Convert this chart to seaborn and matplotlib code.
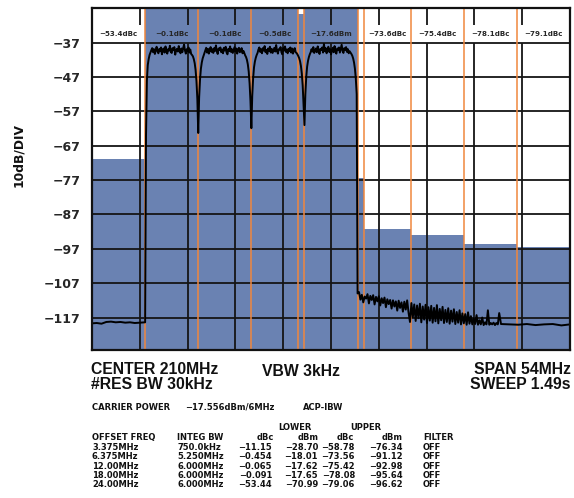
import numpy as np
import matplotlib
matplotlib.use('Agg')
import matplotlib.pyplot as plt
import seaborn as sns

# ACP channel bands (MHz) and integrated power (dBm)
band_edges = [183, 189, 195, 201, 206.25, 207, 213, 213.75, 219, 225, 231, 237]
band_dbm = [-70.99, -17.65, -17.62, -18.01, -28.70, -17.556,
            -76.34, -91.12, -92.98, -95.64, -96.62]
marker_mhz = [189, 195, 201, 206.25, 207, 213, 213.75, 219, 225, 231]

# labels shown in the header row of the plot
hdr_mhz = [186, 192, 198, 203.625, 210, 216.375, 222, 228, 234]
hdr_txt = ['\u221253.4dBc', '\u22120.1dBc', '\u22120.1dBc', '\u22120.5dBc', '\u221217.6dBm',
           '\u221273.6dBc', '\u221275.4dBc', '\u221278.1dBc', '\u221279.1dBc']

# spectrum trace, segment by segment
floor_lo = [-118.7, -118.6, -118.8, -118.3, -118.2, -118.4, -118.3, -118.5,
            -118.4, -118.6, -118.5, -118.4]            # 183.0 .. 188.9
ch1 = [-118.4, -64, -48, -43.5, -41.8, -40.6, -39.9, -39.2,
       -38.6, -39.8, -38.9, -40.3, -39.1, -38.2, -39.6, -40.1, -38.8, -39.5,
       -38.4, -40.4, -39.0, -38.7, -39.9, -38.1, -39.4, -40.2, -38.9, -39.3,
       -37.9, -39.7, -40.0, -38.6, -39.2, -38.3, -40.5, -39.1, -38.8, -39.6,
       -38.0, -39.4, -40.1, -38.7, -39.8, -38.5, -37.6, -39.3, -40.2, -38.9,
       -39.5, -38.4, -39.9, -39.0, -40.3,
       -40.6, -41.0, -41.8, -43.0, -45.0, -48.2, -53.5]   # 189.0 .. 194.9
ch2 = [-63.3, -53.0, -47.8, -44.6, -42.8, -41.6, -40.8, -40.1,
       -39.2, -38.5, -39.9, -38.8, -40.2, -39.0, -38.3, -39.7, -38.9, -40.0,
       -38.6, -39.4, -37.8, -39.6, -40.3, -38.7, -39.1, -38.4, -39.8, -39.0,
       -40.1, -38.5, -39.3, -38.2, -39.9, -40.4, -38.8, -39.5, -38.1, -39.7,
       -38.9, -40.0, -39.2, -38.3, -39.6, -38.7, -40.2, -39.0, -38.5, -39.8,
       -39.3, -38.6, -40.1, -39.4, -40.0,
       -40.7, -41.2, -42.0, -43.3, -45.4, -48.8, -54.0]   # 195.0 .. 200.9
ch3 = [-61.9, -52.5, -47.4, -44.2, -42.5, -41.4, -40.6, -40.0,
       -39.0, -38.4, -39.7, -38.9, -40.1, -38.6, -39.3, -38.0, -39.8, -39.1,
       -40.3, -38.7, -39.5, -38.2, -39.9, -38.8, -40.0, -39.2, -38.5, -39.6,
       -37.7, -39.4, -40.2, -38.9, -39.0, -38.3, -39.8, -40.4, -38.6, -39.3,
       -38.1, -39.7, -39.0, -40.1, -38.8, -39.5, -38.4, -39.9, -38.7, -40.2,
       -39.1, -38.6, -39.8, -40.0, -40.4,
       -40.9, -41.5, -42.4, -43.8, -46.0, -49.5, -55.0]   # 201.0 .. 206.9
ch4 = [-61.0, -52.0, -47.0, -44.0, -42.3, -41.2, -40.4, -39.8,
       -38.9, -39.6, -38.3, -40.0, -39.2, -38.7, -39.8, -38.1, -39.4, -40.3,
       -38.8, -39.1, -38.4, -39.9, -37.4, -39.5, -38.6, -40.1, -39.0, -38.2,
       -39.7, -38.9, -40.4, -39.3, -38.5, -39.8, -38.0, -39.6, -40.2, -38.7,
       -39.1, -38.4, -39.9, -38.8, -37.6, -39.4, -40.0, -38.6, -39.2, -38.3,
       -39.7, -38.9, -40.1, -39.5, -39.9,
       -40.3, -40.8, -41.6, -42.8, -44.6, -47.5, -52.0]   # 207.0 .. 212.9
upper_noise = [-110.0, -109.6, -111.8, -110.4, -112.6, -110.9, -111.5, -110.2,
               -112.9, -110.7, -111.9, -110.5, -113.2, -111.0, -112.3, -110.8,
               -113.5, -111.4, -112.8, -111.2, -114.0, -111.7, -113.1, -111.9,
               -114.4, -112.0, -113.8, -112.3, -115.0, -112.1, -114.2, -112.6,
               -115.3, -112.4, -114.7, -112.0, -115.6, -118.3, -112.8, -116.9,
               -113.2, -118.0, -113.5, -117.2, -113.0, -118.4, -113.8, -117.6,
               -113.3, -118.6, -114.0, -117.9, -113.6, -118.5, -114.2, -118.1,
               -113.4, -118.7, -114.5, -117.8, -113.9, -118.6, -114.8, -118.3,
               -114.3, -118.8, -115.0, -118.2, -114.6, -118.9, -115.4, -118.5,
               -114.9, -119.0, -115.8, -118.7, -116.0, -119.1, -115.5, -118.8,
               -116.6, -119.0, -117.2, -118.9, -116.3, -119.1, -117.8, -119.0,
               -117.0, -119.2, -118.4, -119.0, -114.9, -119.1, -118.6, -119.0,
               -118.5, -119.2, -118.6, -119.0, -115.7]        # 213.0 .. 229.0
floor_hi = [-118.9, -119.0, -119.1, -118.9, -119.2, -119.0, -118.9, -119.3, -119.0]  # 229.2 .. 237

segments = [(183.0, 188.9, floor_lo), (189.0, 194.9, ch1), (195.0, 200.9, ch2),
            (201.0, 206.9, ch3), (207.0, 212.9, ch4), (213.0, 229.0, upper_noise),
            (229.2, 237.0, floor_hi)]
freq = np.concatenate([np.linspace(a, b, len(v)) for a, b, v in segments])
level = np.concatenate([v for a, b, v in segments])

# table under the plot
offs = ['3.375MHz', '6.375MHz', '12.00MHz', '18.00MHz', '24.00MHz']
integ = ['750.0kHz', '5.250MHz', '6.000MHz', '6.000MHz', '6.000MHz']
low_dbc = ['\u221211.15', '\u22120.454', '\u22120.065', '\u22120.091', '\u221253.44']
low_dbm = ['\u221228.70', '\u221218.01', '\u221217.62', '\u221217.65', '\u221270.99']
up_dbc = ['\u221258.78', '\u221273.56', '\u221275.42', '\u221278.08', '\u221279.06']
up_dbm = ['\u221276.34', '\u221291.12', '\u221292.98', '\u221295.64', '\u221296.62']
filt = ['OFF'] * 5

BLUE = '#6A82B2'
ORANGE = '#F0873D'
YLO, YHI = -126.6, -27
WIDE = 'DejaVu Sans'

sns.set_theme(style='white')
plt.rcParams['font.family'] = ['Liberation Sans', 'DejaVu Sans']
plt.rcParams['font.weight'] = 'bold'

fig = plt.figure(figsize=(5.74, 4.98), dpi=100)
ax = fig.add_axes([0.1603, 0.2962, 0.8328, 0.6872])

# channel power blocks
ax.bar(band_edges[:-1], np.array(band_dbm) - (YLO - 5), bottom=YLO - 5,
       width=np.diff(band_edges), align='edge', color=BLUE, lw=0, zorder=1)

# graticule
gx = [183 + 5.4 * k for k in range(1, 10)]
ax.vlines(gx, YLO, -37, color='#151515', lw=1.3, zorder=2)
ax.vlines(gx, -31.9, YHI, color='#151515', lw=1.3, zorder=2)
for gy in range(-117, -36, 10):
    ax.axhline(gy, color='#151515', lw=1.3, zorder=2)

for m in marker_mhz:
    ax.axvline(m, color=ORANGE, lw=1.1, zorder=3)

sns.lineplot(x=freq, y=level, color='black', lw=1.4, estimator=None,
             sort=False, ax=ax, zorder=4)

for f, t in zip(hdr_mhz, hdr_txt):
    ax.text(f, -34.4, t, ha='center', va='center', fontsize=5.1,
            fontweight='bold', family=WIDE, zorder=5)

ax.set_xlim(183, 237)
ax.set_ylim(YLO, YHI)
ax.set_xticks([])
ax.set_yticks(list(range(-117, -36, 10)))
ax.set_yticklabels(['\u2212%d' % -v for v in range(-117, -36, 10)],
                   fontsize=9, fontweight='bold', family=WIDE)
ax.tick_params(axis='y', length=0, pad=8)
ax.set_xlabel('')
ax.set_ylabel('')
for s in ax.spines.values():
    s.set_color('#111111')
    s.set_linewidth(1.6)
    s.set_zorder(6)

W, H = 574, 498
def ft(x, y, s, size, ha='left', family=None):
    kw = {'family': family} if family else {}
    fig.text(x / W, 1 - y / H, s, ha=ha, va='center', fontsize=size,
             fontweight='bold', color='#111111', **kw)

fig.text(19 / W, 1 - 155 / H, '10dB/DIV', rotation=90, ha='center', va='center',
         fontsize=8.8, fontweight='bold', family=WIDE, color='#111111')

ft(91, 369, 'CENTER 210MHz', 11.3)
ft(91, 384, '#RES BW 30kHz', 11.3)
ft(301, 371, 'VBW 3kHz', 11.3, ha='center')
ft(571, 369, 'SPAN 54MHz', 11.3, ha='right')
ft(571, 384, 'SWEEP 1.49s', 11.3, ha='right')

ts = 6.05
ft(92, 407, 'CARRIER POWER', ts, family=WIDE)
ft(185, 407, '\u221217.556dBm/6MHz', ts, family=WIDE)
ft(303, 407, 'ACP-IBW', ts, family=WIDE)
ft(295, 427, 'LOWER', ts, ha='center', family=WIDE)
ft(366, 427, 'UPPER', ts, ha='center', family=WIDE)
ft(92, 437, 'OFFSET FREQ', ts, family=WIDE)
ft(177, 437, 'INTEG BW', ts, family=WIDE)
ft(274, 437, 'dBc', ts, ha='right', family=WIDE)
ft(319, 437, 'dBm', ts, ha='right', family=WIDE)
ft(354, 437, 'dBc', ts, ha='right', family=WIDE)
ft(403, 437, 'dBm', ts, ha='right', family=WIDE)
ft(423, 437, 'FILTER', ts, family=WIDE)
row_y = [447.5, 456.7, 466, 475.5, 484.3]
for i, y in enumerate(row_y):
    ft(92, y, offs[i], ts, family=WIDE)
    ft(177, y, integ[i], ts, family=WIDE)
    ft(272, y, low_dbc[i], ts, ha='right', family=WIDE)
    ft(318, y, low_dbm[i], ts, ha='right', family=WIDE)
    ft(355, y, up_dbc[i], ts, ha='right', family=WIDE)
    ft(403, y, up_dbm[i], ts, ha='right', family=WIDE)
    ft(423, y, filt[i], ts, family=WIDE)

fig.savefig('out.png', dpi=100)
